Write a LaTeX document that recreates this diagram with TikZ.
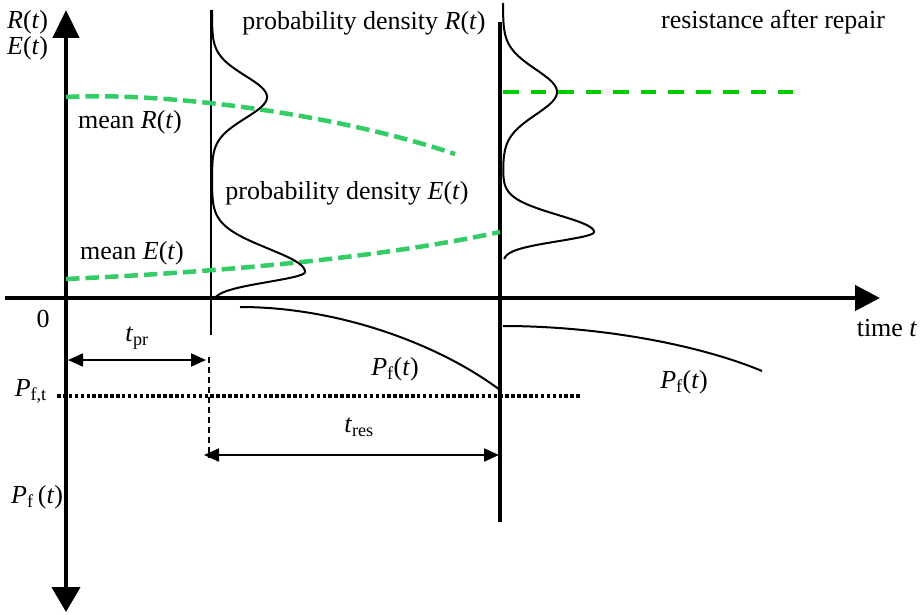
\documentclass[tikz,border=0pt]{standalone}
\usepackage{fontspec}
\setmainfont{Liberation Serif}
\usetikzlibrary{arrows.meta}
\definecolor{meangreen}{RGB}{51,204,102}
\definecolor{repgreen}{RGB}{0,204,0}
\begin{document}
\begin{tikzpicture}[x=1pt,y=-1pt,
  lbl/.style={font=\fontsize{26pt}{30pt}\selectfont, inner sep=0pt},
  axisline/.style={line width=4.5pt},
  thinline/.style={line width=1.6pt},
  dens/.style={line width=2pt},
  pfcurve/.style={line width=2pt},
  dimarrow/.style={line width=2pt, {Triangle[length=15pt,width=13pt]}-{Triangle[length=15pt,width=13pt]}},
  meanline/.style={line width=4.5pt, meangreen, dash pattern=on 13.5pt off 6pt},
  repline/.style={line width=4pt, repgreen, dash pattern=on 15.5pt off 12pt},
  dotline/.style={line width=3.5pt, dash pattern=on 3.5pt off 2.4pt},
  guide/.style={line width=1.5pt, dash pattern=on 6pt off 4pt}]
\useasboundingbox (0,0) rectangle (921,615);
% coordinates
\coordinate (ytop) at (66,10);
\coordinate (ybot) at (66,612);
\coordinate (xleft) at (5,298);
\coordinate (xright) at (880,298);
\coordinate (v1top) at (211,10);
\coordinate (v1bot) at (211,335);
\coordinate (v2top) at (500,22);
\coordinate (v2bot) at (500,522);
% axes
\draw[axisline, {Triangle[length=28pt,width=26pt]}-{Triangle[length=25pt,width=28pt]}] (ytop) -- (ybot);
\draw[axisline, -{Triangle[length=25pt,width=25pt]}] (xleft) -- (xright);
\draw[thinline] (v1top) -- (v1bot);
\draw[axisline] (v2top) -- (v2bot);
% mean lines
\coordinate (mr0) at (66,97);
\coordinate (mr1) at (455,154);
\coordinate (me0) at (66,279);
\coordinate (me1) at (500,232);
\coordinate (rp0) at (503,92);
\coordinate (rp1) at (793,92);
\draw[meanline] (mr0) .. controls (160,92) and (330,112) .. (mr1);
\draw[meanline] (me0) .. controls (220,272) and (380,258) .. (me1);
\draw[repline] (rp0) -- (rp1);
% densities
\draw[dens] plot[domain=10:297, samples=300, variable=\u, smooth]
  ({212+55*exp(-min(((\u-97)/30)^2,9))+93*exp(-min(((\u-272)/(\u<272 ? 33 : 14))^2,9))}, \u);
\draw[dens] plot[domain=3:259, samples=300, variable=\u, smooth]
  ({503+54*exp(-min(((\u-92)/32)^2,9))+91*exp(-min(((\u-232)/(\u<232 ? 24 : 13))^2,9))}, \u);
% failure probability curves
\coordinate (pa0) at (240,307);
\coordinate (pa1) at (500,390);
\coordinate (pb0) at (503,326);
\coordinate (pb1) at (762,371);
\draw[pfcurve] (pa0) .. controls (340,307) and (440,345) .. (pa1);
\draw[pfcurve] (pb0) .. controls (600,326) and (700,345) .. (pb1);
% target level
\coordinate (dl0) at (57,396);
\coordinate (dl1) at (580,396);
\draw[dotline] (dl0) -- (dl1);
% guide and dimension arrows
\coordinate (g0) at (209,357);
\coordinate (g1) at (209,458);
\draw[guide] (g0) -- (g1);
\coordinate (tp0) at (68,360);
\coordinate (tp1) at (206,360);
\coordinate (tr0) at (204,455);
\coordinate (tr1) at (499,455);
\draw[dimarrow] (tp0) -- (tp1);
\draw[dimarrow] (tr0) -- (tr1);
% labels
\node[lbl, anchor=west] (lR) at (7,22) {\textit{R}(\textit{t})};
\node[lbl, anchor=west] (lE) at (7,48) {\textit{E}(\textit{t})};
\node[lbl] (lzero) at (43,319) {0};
\node[lbl, anchor=base east] (lpft) at (47,396) {\textit{P}\textsubscript{f,t}};
\node[lbl, anchor=base west] (lpfax) at (11,503) {\textit{P}\textsubscript{f}\,(\textit{t})};
\node[lbl] (ltpr) at (137,338) {\textit{t}\textsubscript{pr}};
\node[lbl] (ltres) at (359,427) {\textit{t}\textsubscript{res}};
\node[lbl] (lpf1) at (395,369) {\textit{P}\textsubscript{f}(\textit{t})};
\node[lbl] (lpf2) at (684,382) {\textit{P}\textsubscript{f}(\textit{t})};
\node[lbl] (ltime) at (887,328) {time \textit{t}};
\node[lbl] (lmR) at (130,122) {mean \textit{R}(\textit{t})};
\node[lbl] (lmE) at (132,253) {mean \textit{E}(\textit{t})};
\node[lbl] (lpdR) at (364,23) {probability density \textit{R}(\textit{t})};
\node[lbl] (lpdE) at (347,193) {probability density \textit{E}(\textit{t})};
\node[lbl] (lrep) at (773,22) {resistance after repair};
\end{tikzpicture}
\end{document}
